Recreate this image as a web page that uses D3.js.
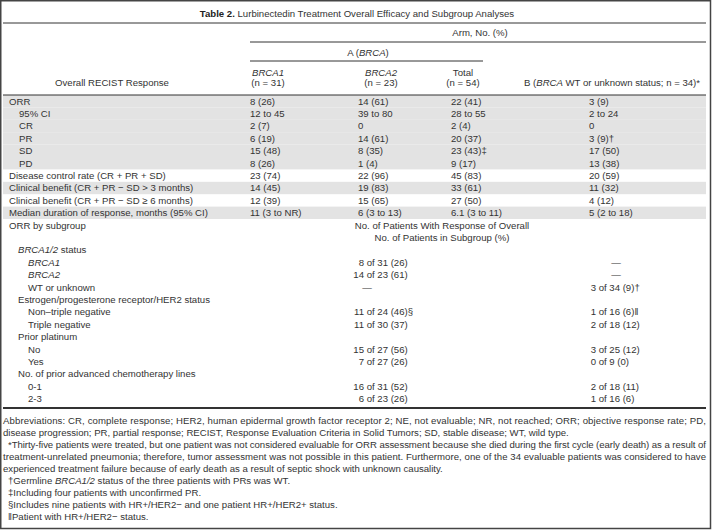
<!DOCTYPE html>
<html>
<head>
<meta charset="utf-8">
<script src="https://cdn.jsdelivr.net/npm/d3@7"></script>
<style>
  body { margin: 0; background: #fff; }
  svg text { font-family: "Liberation Sans", Arial, sans-serif; font-size: 9.6px; fill: #333; }
</style>
</head>
<body>
<div class="canvas"></div>
<script>
// ---- data ----
const title = "Lurbinectedin Treatment Overall Efficacy and Subgroup Analyses"
const armHeader = "Arm, No. (%)"
const armAHeader = "A (_BRCA_)"
const armBHeader = "B (_BRCA_ WT or unknown status; n = 34)*"
const colNames = ["_BRCA1_", "_BRCA2_", "Total"]
const colN = ["(n = 31)", "(n = 23)", "(n = 54)"]

const responseLabels = [
  "ORR", "95% CI", "CR", "PR", "SD", "PD",
  "Disease control rate (CR + PR + SD)",
  "Clinical benefit (CR + PR \u2212 SD > 3 months)",
  "Clinical benefit (CR + PR \u2212 SD \u2265 6 months)",
  "Median duration of response, months (95% CI)"
]
const responseLevel = [0, 1, 1, 1, 1, 1, 0, 0, 0, 0]
const brca1Values = ["8 (26)", "12 to 45", "2 (7)", "6 (19)", "15 (48)", "8 (26)", "23 (74)", "14 (45)", "12 (39)", "11 (3 to NR)"]
const brca2Values = ["14 (61)", "39 to 80", "0", "14 (61)", "8 (35)", "1 (4)", "22 (96)", "19 (83)", "15 (65)", "6 (3 to 13)"]
const totalValues = ["22 (41)", "28 to 55", "2 (4)", "20 (37)", "23 (43)\u2021", "9 (17)", "45 (83)", "33 (61)", "27 (50)", "6.1 (3 to 11)"]
const armBValues = ["3 (9)", "2 to 24", "0", "3 (9)\u2020", "17 (50)", "13 (38)", "20 (59)", "11 (32)", "4 (12)", "5 (2 to 18)"]
const shadedRows = ["ORR", "95% CI", "CR", "PR", "SD", "PD",
  "Clinical benefit (CR + PR \u2212 SD > 3 months)",
  "Median duration of response, months (95% CI)"]

const subgroupTitle = "ORR by subgroup"
const subgroupHeader = ["No. of Patients With Response of Overall", "No. of Patients in Subgroup (%)"]
const subgroupLabels = [
  "_BRCA1/2_ status", "_BRCA1_", "_BRCA2_", "WT or unknown",
  "Estrogen/progesterone receptor/HER2 status", "Non\u2013triple negative", "Triple negative",
  "Prior platinum", "No", "Yes",
  "No. of prior advanced chemotherapy lines", "0-1", "2-3"
]
const subgroupLevel = [1, 2, 2, 2, 1, 2, 2, 1, 2, 2, 1, 2, 2]
const subgroupA = ["", "8 of 31 (26)", "14 of 23 (61)", "\u2014", "", "11 of 24 (46)\u00a7", "11 of 30 (37)", "", "15 of 27 (56)", "7 of 27 (26)", "", "16 of 31 (52)", "6 of 23 (26)"]
const subgroupB = ["", "\u2014", "\u2014", "3 of 34 (9)\u2020", "", "1 of 16 (6)\u2016", "2 of 18 (12)", "", "3 of 25 (12)", "0 of 9 (0)", "", "2 of 18 (11)", "1 of 16 (6)"]

const footnotes = [
  ["Abbreviations: CR, complete response; HER2, human epidermal growth factor receptor 2; NE, not evaluable; NR, not reached; ORR; objective response rate; PD,",
   "disease progression; PR, partial response; RECIST, Response Evaluation Criteria in Solid Tumors; SD, stable disease; WT, wild type."],
  ["*Thirty-five patients were treated, but one patient was not considered evaluable for ORR assessment because she died during the first cycle (early death) as a result of",
   "treatment-unrelated pneumonia; therefore, tumor assessment was not possible in this patient. Furthermore, one of the 34 evaluable patients was considered to have",
   "experienced treatment failure because of early death as a result of septic shock with unknown causality."],
  ["\u2020Germline _BRCA1/2_ status of the three patients with PRs was WT."],
  ["\u2021Including four patients with unconfirmed PR."],
  ["\u00a7Includes nine patients with HR+/HER2\u2212 and one patient HR+/HER2+ status."],
  ["\u2016Patient with HR+/HER2\u2212 status."]
]

// ---- layout ----
const width = 712
const height = 530
const left = 3
const right = 706
const labelX = 9
const indent = 10
const rowH = 12.4
const bodyTop = 95

const svg = d3.select(".canvas")
  .append("svg")
    .attr("width", width)
    .attr("height", height)

// text with _italic_ segments
function rich(sel, str) {
  str.split("_").forEach((part, i) => {
    if (!part) return
    sel.append("tspan")
      .attr("font-style", i % 2 ? "italic" : null)
      .text(part)
  })
  return sel
}

function label(x, y, str, anchor) {
  const t = svg.append("text")
    .attr("x", x)
    .attr("y", y)
    .attr("dy", "0.35em")
    .attr("text-anchor", anchor || "start")
  return rich(t, str)
}

function rule(x1, x2, y, w) {
  svg.append("line")
    .attr("x1", x1).attr("x2", x2)
    .attr("y1", y).attr("y2", y)
    .attr("stroke", "#333")
    .attr("stroke-width", w || 1)
}

// rows of the body: response rows, subgroup title (2 lines), subgroup rows
const rowKeys = d3.range(responseLabels.length + 2 + subgroupLabels.length)
const y = d3.scaleBand()
  .domain(rowKeys)
  .range([bodyTop, bodyTop + rowKeys.length * rowH])
const yc = i => y(i) + y.bandwidth() / 2

const colKeys = ["brca1", "brca2", "total", "armB"]
const x = d3.scaleOrdinal()
  .domain(colKeys)
  .range([250, 358, 451, 589])
const headX = d3.scaleOrdinal()
  .domain(colKeys)
  .range([268, 381, 463, 612])

// shaded bands
svg.selectAll("rect.band")
  .data(responseLabels.map((d, i) => ({ d, i })).filter(r => shadedRows.includes(r.d)))
  .enter()
  .append("rect")
    .attr("class", "band")
    .attr("x", left)
    .attr("width", right - left)
    .attr("y", r => y(r.i))
    .attr("height", y.bandwidth())
    .attr("fill", "#e3e3e3")

// title
const t = svg.append("text")
  .attr("x", 357).attr("y", 14).attr("dy", "0.35em")
  .attr("text-anchor", "middle")
t.append("tspan").attr("font-weight", "bold").attr("fill", "#222").text("Table 2.")
t.append("tspan").text(" " + title)
rule(left, right, 23)

// header
label(480, 32.5, armHeader, "middle")
rule(250, right, 42)
label(368, 53, armAHeader, "middle")
rule(250, 483, 61)
colNames.forEach((c, i) => {
  label(headX(colKeys[i]), 73, c, "middle")
  label(headX(colKeys[i]), 83, colN[i], "middle")
})
label(headX("armB"), 83, armBHeader, "middle")
label(112, 83, "Overall RECIST Response", "middle")
rule(left, right, bodyTop)

// response rows
const colValues = [brca1Values, brca2Values, totalValues, armBValues]
responseLabels.forEach((r, i) => {
  label(labelX + indent * responseLevel[i], yc(i), r)
  colValues.forEach((vals, j) => label(x(colKeys[j]), yc(i), vals[i]))
})

// subgroup block
const sg = responseLabels.length
label(labelX, yc(sg), subgroupTitle)
subgroupHeader.forEach((h, k) => label(442, yc(sg + k), h, "middle"))

// "n of N" cells are aligned on the first number; dashes sit on their own
function ofCell(xAnchor, dashX, yy, str) {
  if (!str) return
  if (str === "\u2014") { label(dashX, yy, str, "middle"); return }
  const sp = str.indexOf(" ")
  label(xAnchor, yy, str.slice(0, sp), "end")
  label(xAnchor, yy, "\u00a0" + str.slice(sp + 1))
}

subgroupLabels.forEach((s, k) => {
  const i = sg + 2 + k
  label(labelX + 9 + indent * (subgroupLevel[k] - 1), yc(i), s)
  ofCell(364, 367, yc(i), subgroupA[k])
  ofCell(596, 616, yc(i), subgroupB[k])
})

const bodyBottom = y(rowKeys.length - 1) + y.bandwidth() + 3
rule(left, right, bodyBottom, 1.8)

// footnotes
let fy = bodyBottom + 13
footnotes.forEach((para, p) => {
  para.forEach((line, li) => {
    const fx = (p > 0 && li === 0) ? left + 5 : left
    const tx = svg.append("text")
      .attr("x", fx).attr("y", fy).attr("dy", "0.35em")
    rich(tx, line)
    if (li < para.length - 1) {
      tx.attr("textLength", right - fx).attr("lengthAdjust", "spacing")
    }
    fy += 12
  })
})

// outer frame
svg.append("rect")
  .attr("x", 0.75).attr("y", 0.75)
  .attr("width", width - 2.25).attr("height", height - 2.25)
  .attr("fill", "none")
  .attr("stroke", "#444")
  .attr("stroke-width", 1.5)
</script>
</body>
</html>
